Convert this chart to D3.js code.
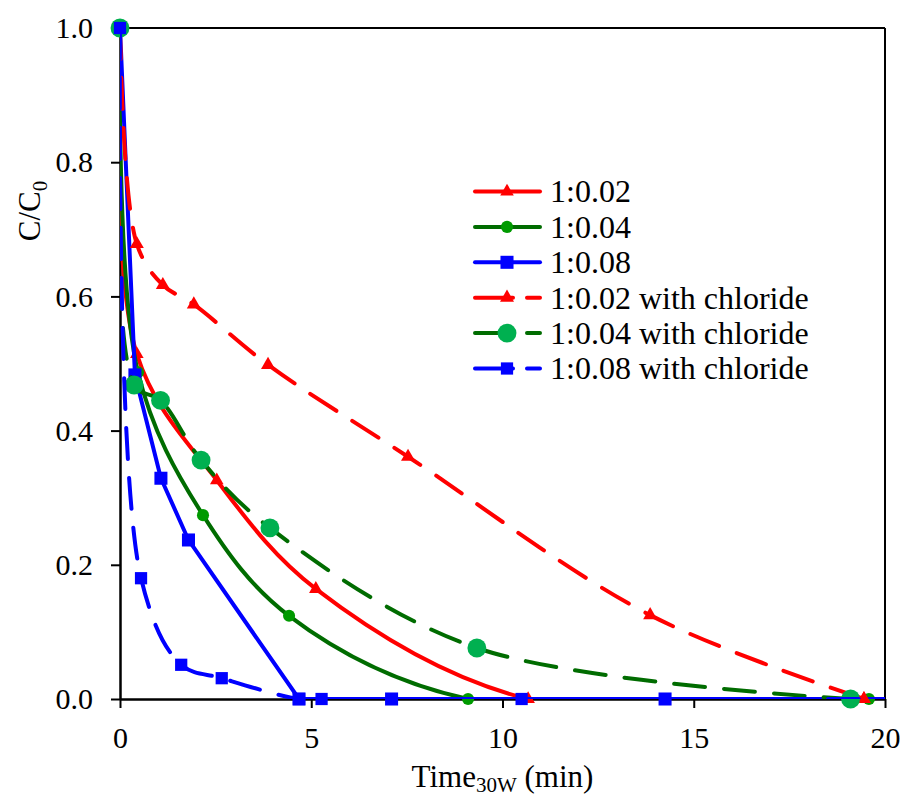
<!DOCTYPE html>
<html>
<head>
<script src="https://d3js.org/d3.v7.min.js"></script>
<style>
  body {margin: 0; background: #fff;}
  svg text {font-family: 'Liberation Serif', 'DejaVu Serif', serif; fill: #000;}
  .axis text {font-size: 30px;}
  .axis path, .axis line {stroke: #000;}
</style>
</head>
<body>
<svg id="chart" width="906" height="798" font-family="Liberation Serif"></svg>
<script>
// data (time in min, C/C0)
var seriesNames = ["1:0.02", "1:0.04", "1:0.08",
                   "1:0.02 with chloride", "1:0.04 with chloride", "1:0.08 with chloride"];

var time1 = [0, 0.44, 2.53, 5.12, 10.67, 19.45];
var conc1 = [1, 0.514, 0.326, 0.164, 0, 0];

var time2 = [0, 0.47, 2.17, 4.42, 9.1, 19.58];
var conc2 = [1, 0.487, 0.274, 0.124, 0, 0];

var time3 = [0, 0.39, 1.07, 1.79, 4.68, 7.1, 14.25, 20.4];
var conc3 = [1, 0.483, 0.329, 0.237, 0, 0, 0, 0];

var time4 = [0, 0.44, 1.12, 1.93, 3.87, 7.53, 13.86, 19.45];
var conc4 = [1, 0.678, 0.617, 0.588, 0.498, 0.361, 0.125, 0];

var time5 = [0, 0.37, 1.06, 2.12, 3.92, 9.33, 19.1];
var conc5 = [1, 0.468, 0.445, 0.356, 0.255, 0.076, 0];

var time6 = [0, 0.55, 1.6, 2.66, 4.68, 5.27, 10.5, 20.4];
var conc6 = [1, 0.18, 0.051, 0.031, 0, 0, 0, 0];

var xTicks = [0, 5, 10, 15, 20];
var yTicks = [0, 0.2, 0.4, 0.6, 0.8, 1.0];

var times = [time1, time2, time3, time4, time5, time6];
var concs = [conc1, conc2, conc3, conc4, conc5, conc6];

var serif = "'Liberation Serif', 'DejaVu Serif', serif";

// look of each series
var styles = [
  {line: "#ff0000", fill: "#ff0000", sym: d3.symbolTriangle, size: 80,  dash: null,    smooth: true},
  {line: "#006c00", fill: "#009a00", sym: d3.symbolCircle,   size: 115, dash: null,    smooth: true},
  {line: "#0000ff", fill: "#0000ff", sym: d3.symbolSquare,   size: 170, dash: null,    smooth: false},
  {line: "#ff0000", fill: "#ff0000", sym: d3.symbolTriangle, size: 85,  dash: "31,19", smooth: true},
  {line: "#006c00", fill: "#00b050", sym: d3.symbolCircle,   size: 280, dash: "31,19", smooth: true},
  {line: "#0000ff", fill: "#0000ff", sym: d3.symbolSquare,   size: 150, dash: "31,19", smooth: true}
];

var svg = d3.select("#chart"),
    margin = {top: 28, right: 21, bottom: 99, left: 120},
    width = +svg.attr("width") - margin.left - margin.right,
    height = +svg.attr("height") - margin.top - margin.bottom,
    g = svg.append("g").attr("transform", "translate(" + margin.left + "," + margin.top + ")");

var x = d3.scaleLinear().domain([0, 20]).range([0, width]);
var y = d3.scaleLinear().domain([0, 1]).range([height, 0]);

svg.append("defs").append("clipPath").attr("id", "plotclip")
  .append("rect").attr("x", 0).attr("y", 0).attr("width", width).attr("height", height);

// frame top/right
g.append("line").attr("x1", 0).attr("x2", width).attr("y1", 0).attr("y2", 0)
  .attr("stroke", "#000").attr("stroke-width", 2);
g.append("line").attr("x1", width).attr("x2", width).attr("y1", 0).attr("y2", height)
  .attr("stroke", "#000").attr("stroke-width", 2);

g.append("g").attr("class", "axis")
  .attr("transform", "translate(0," + height + ")")
  .call(d3.axisBottom(x).tickValues(xTicks).tickSize(9).tickSizeOuter(0).tickPadding(19).tickFormat(d3.format("d")));
g.append("g").attr("class", "axis")
  .call(d3.axisLeft(y).tickValues(yTicks).tickSize(9).tickSizeOuter(0).tickPadding(18).tickFormat(d3.format(".1f")));
g.selectAll(".axis").attr("font-family", serif).attr("font-size", 30);
g.selectAll(".axis path").attr("stroke-width", 2.5);
g.selectAll(".axis line").attr("stroke-width", 2);

var series = seriesNames.map(function(name, i) {
  return {name: name, style: styles[i],
          pts: times[i].map(function(t, j) { return {t: t, c: concs[i][j]}; })};
});

var lineSmooth = d3.line().x(function(d) { return x(d.t); }).y(function(d) { return y(d.c); })
  .curve(d3.curveCatmullRom.alpha(0.5));
var lineStraight = d3.line().x(function(d) { return x(d.t); }).y(function(d) { return y(d.c); });

var sg = g.selectAll(".series").data(series).enter().append("g").attr("class", "series");

sg.append("path")
  .attr("clip-path", "url(#plotclip)")
  .attr("d", function(d) { return (d.style.smooth ? lineSmooth : lineStraight)(d.pts); })
  .attr("fill", "none")
  .attr("stroke", function(d) { return d.style.line; })
  .attr("stroke-width", 4)
  .attr("stroke-linecap", "round")
  .attr("stroke-linejoin", "round")
  .attr("stroke-dasharray", function(d) { return d.style.dash; });

sg.each(function(s) {
  d3.select(this).selectAll("path.mk")
    .data(s.pts.filter(function(p) { return p.t <= 20; }))
    .enter().append("path").attr("class", "mk")
    .attr("transform", function(p) { return "translate(" + x(p.t) + "," + y(p.c) + ")"; })
    .attr("d", d3.symbol().type(s.style.sym).size(s.style.size))
    .attr("fill", s.style.fill);
});

// legend
var legend = svg.append("g").attr("transform", "translate(473,191.5)")
  .selectAll("g").data(series).enter().append("g")
  .attr("transform", function(d, i) { return "translate(0," + i * 35.4 + ")"; });

legend.append("line")
  .attr("x1", 2).attr("x2", 67).attr("y1", 0).attr("y2", 0)
  .attr("stroke", function(d) { return d.style.line; })
  .attr("stroke-width", 4)
  .attr("stroke-linecap", "round")
  .attr("stroke-dasharray", function(d) { return d.style.dash ? "38,14" : null; });

legend.append("path")
  .attr("transform", "translate(34,0)")
  .attr("d", function(d) { return d3.symbol().type(d.style.sym).size(d.style.size)(); })
  .attr("fill", function(d) { return d.style.fill; });

legend.append("text")
  .attr("x", 77).attr("y", 0).attr("dy", "0.34em")
  .attr("font-family", serif).attr("font-size", 32)
  .text(function(d) { return d.name; });

// axis titles
var xt = svg.append("text")
  .attr("x", margin.left + width / 2).attr("y", 787)
  .attr("text-anchor", "middle").attr("font-family", serif).attr("font-size", 31);
xt.append("tspan").text("Time");
xt.append("tspan").attr("font-size", 21).attr("dy", 5).text("30W");
xt.append("tspan").attr("dy", -5).text(" (min)");

var yt = svg.append("text")
  .attr("transform", "translate(40,211) rotate(-90)")
  .attr("text-anchor", "middle").attr("font-family", serif).attr("font-size", 31);
yt.append("tspan").text("C/C");
yt.append("tspan").attr("font-size", 21).attr("dy", 7).text("0");
</script>
</body>
</html>
